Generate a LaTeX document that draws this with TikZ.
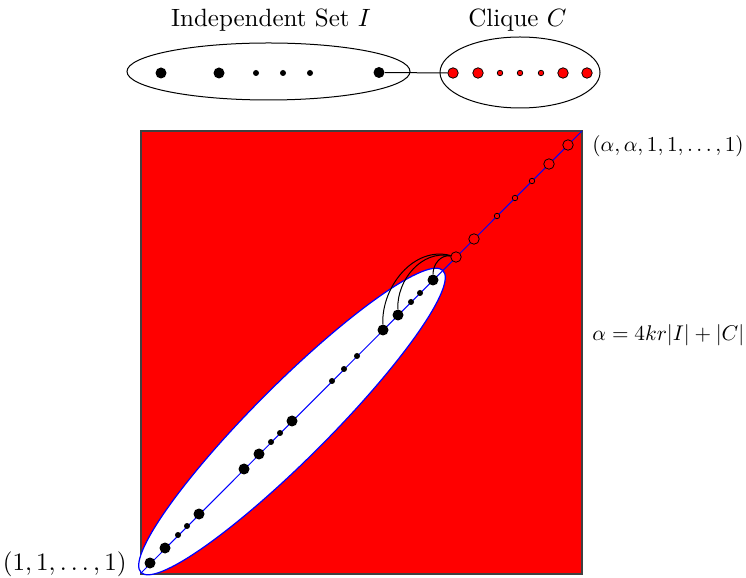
\documentclass[tikz,border=0pt]{standalone}
\usetikzlibrary{shapes.geometric}
\begin{document}
\begin{tikzpicture}[x=0.4pt,y=-0.4pt,
  bigb/.style={circle,fill=black,inner sep=0pt,minimum size=4.4pt},
  smallb/.style={circle,fill=black,inner sep=0pt,minimum size=2.4pt},
  bigr/.style={circle,fill=red,draw=black,line width=0.3pt,inner sep=0pt,minimum size=4.2pt},
  smallr/.style={circle,fill=red,draw=black,line width=0.3pt,inner sep=0pt,minimum size=2.2pt},
  oval/.style={draw,ellipse,inner sep=0pt},
  lbl/.style={inner sep=0pt},
  edge/.style={draw=black,line width=0.4pt}]
\useasboundingbox (0,0) rectangle (746,578);
% ---- top part ----
\node[oval,minimum width=113.2pt,minimum height=22.8pt] (IS) at (268.5,71.5) {};
\node[oval,minimum width=64pt,minimum height=28.4pt] (CL) at (520,72.5) {};
\node[lbl] (lI) at (271,20) {Independent Set $I$};
\node[lbl] (lC) at (517.5,20) {Clique $C$};
\node[bigb] (t1) at (161,73) {};
\node[bigb] (t2) at (219,73) {};
\node[smallb] (t3) at (256,73) {};
\node[smallb] (t4) at (283,73) {};
\node[smallb] (t5) at (310,73) {};
\node[bigb] (t6) at (379,72.5) {};
\node[bigr] (r1) at (453,73) {};
\node[bigr] (r2) at (478,73) {};
\node[smallr] (r3) at (500,73) {};
\node[smallr] (r4) at (520,73) {};
\node[smallr] (r5) at (541,73) {};
\node[bigr] (r6) at (563,73) {};
\node[bigr] (r7) at (587,73) {};
\draw[edge] (t6) -- (r1);
% ---- square ----
\coordinate (BL) at (141,573);
\coordinate (TR) at (582,131);
\draw[fill=red,line width=0.45pt,draw=black!75] (141,131) rectangle (582,574);
\draw[blue,fill=white,line width=0.5pt,rotate around={45:(292,421.5)}] (292,421.5) ellipse [x radius=85.4pt, y radius=15pt];
\draw[blue,line width=0.4pt] (BL) -- (TR);
% diagonal vertices (y = 713 - x)
\node[bigb] (d1) at (150,563) {};
\node[bigb] (d2) at (165,548) {};
\node[smallb] (d3) at (178,535) {};
\node[smallb] (d4) at (187,526) {};
\node[bigb] (d5) at (199,514) {};
\node[bigb] (d6) at (244,469) {};
\node[bigb] (d7) at (259,454) {};
\node[smallb] (d8) at (271,442) {};
\node[smallb] (d9) at (280,433) {};
\node[bigb] (d10) at (292,421) {};
\node[smallb] (d11) at (332,381) {};
\node[smallb] (d12) at (344,369) {};
\node[smallb] (d13) at (357,356) {};
\node[bigb] (d14) at (383,330) {};
\node[bigb] (d15) at (398,315) {};
\node[smallb] (d16) at (411,302) {};
\node[smallb] (d17) at (420,293) {};
\node[bigb] (d18) at (433,280) {};
\node[bigr] (c1) at (456,257) {};
\node[bigr] (c2) at (474,239) {};
\node[smallr] (c3) at (497,216) {};
\node[smallr] (c4) at (515,198) {};
\node[smallr] (c5) at (532,181) {};
\node[bigr] (c6) at (549,164) {};
\node[bigr] (c7) at (568,145) {};
\draw[edge] (d14) to[out=92,in=165] (c1);
\draw[edge] (d15) to[out=92,in=168] (c1);
\draw[edge] (d18) to[out=90,in=170] (c1);
% ---- labels ----
\node[lbl,anchor=west,scale=0.85] (la) at (592,146) {$(\alpha,\alpha,1,1,\ldots,1)$};
\node[lbl,anchor=west,scale=0.85] (lb) at (592,335) {$\alpha=4kr|I|+|C|$};
\node[lbl,anchor=east] (lc) at (127,564) {$(1,1,\ldots,1)$};
\end{tikzpicture}
\end{document}
